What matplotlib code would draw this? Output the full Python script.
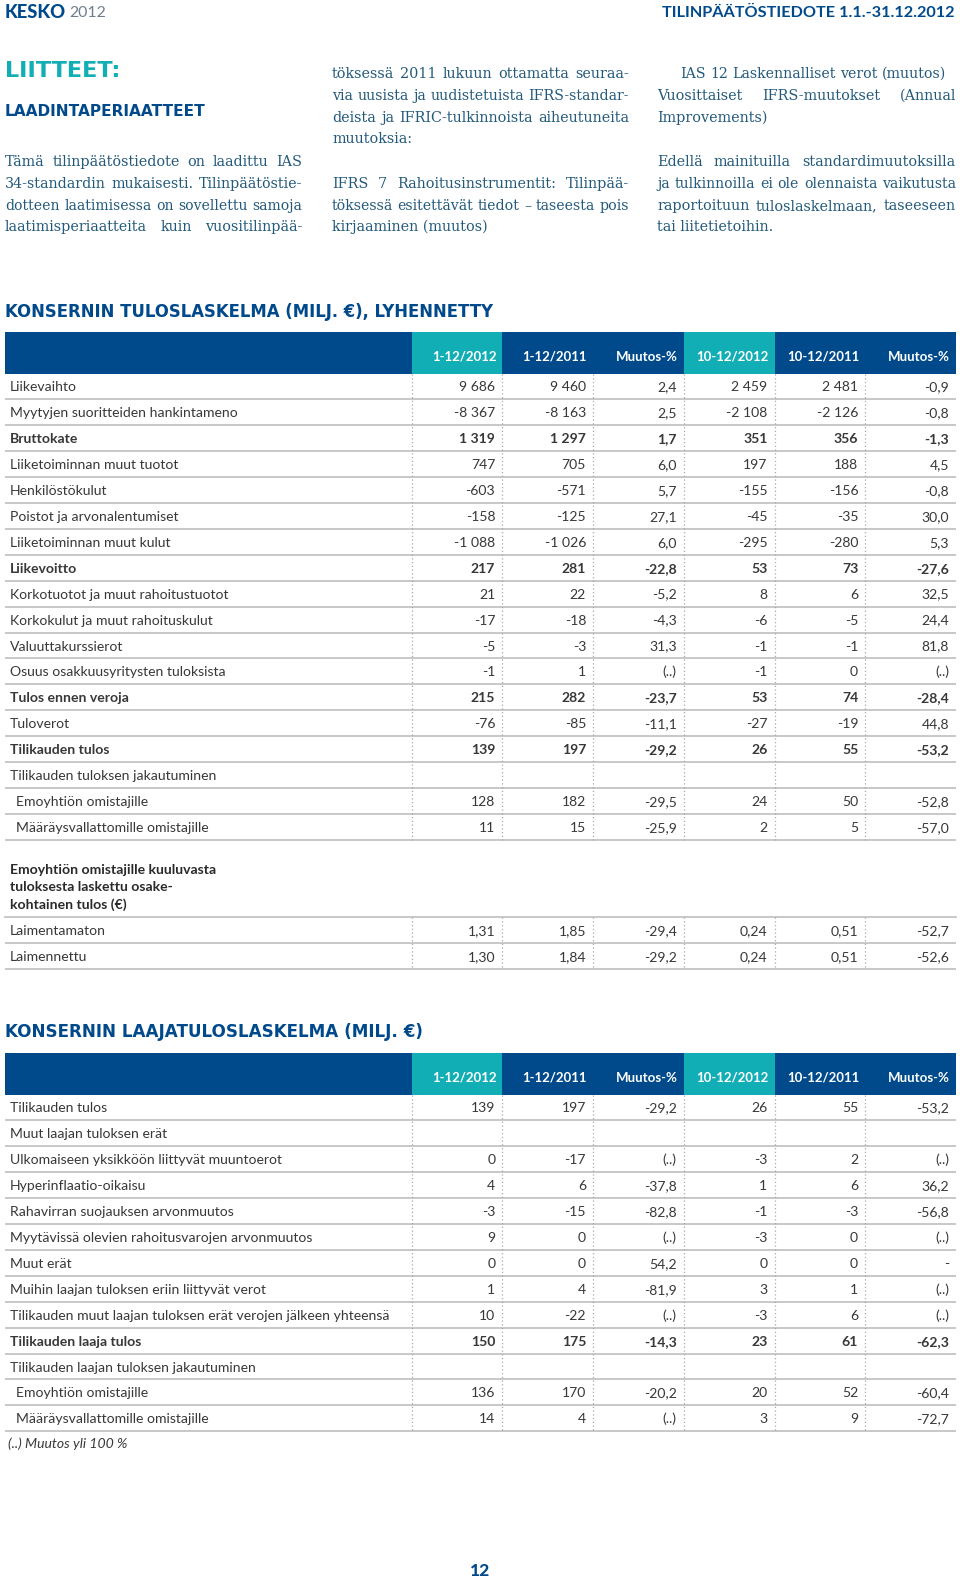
import math
import matplotlib
matplotlib.use("Agg")
import matplotlib.pyplot as plt
from matplotlib.patches import Rectangle
from matplotlib import font_manager

# ---------------- data ----------------
col_headers = ["1-12/2012", "1-12/2011", "Muutos-%", "10-12/2012", "10-12/2011", "Muutos-%"]

# Table 1: Konsernin tuloslaskelma
t1_labels = ["Liikevaihto", "Myytyjen suoritteiden hankintameno", "Bruttokate",
             "Liiketoiminnan muut tuotot", "Henkilöstökulut", "Poistot ja arvonalentumiset",
             "Liiketoiminnan muut kulut", "Liikevoitto", "Korkotuotot ja muut rahoitustuotot",
             "Korkokulut ja muut rahoituskulut", "Valuuttakurssierot",
             "Osuus osakkuusyritysten tuloksista", "Tulos ennen veroja", "Tuloverot",
             "Tilikauden tulos", "Tilikauden tuloksen jakautuminen",
             "Emoyhtiön omistajille", "Määräysvallattomille omistajille"]
t1_y2012 = [9686, -8367, 1319, 747, -603, -158, -1088, 217, 21, -17, -5, -1, 215, -76, 139, '', 128, 11]
t1_y2011 = [9460, -8163, 1297, 705, -571, -125, -1026, 281, 22, -18, -3, 1, 282, -85, 197, '', 182, 15]
t1_ychg = [2.4, 2.5, 1.7, 6.0, 5.7, 27.1, 6.0, -22.8, -5.2, -4.3, 31.3, None, -23.7, -11.1, -29.2, '', -29.5, -25.9]
t1_q2012 = [2459, -2108, 351, 197, -155, -45, -295, 53, 8, -6, -1, -1, 53, -27, 26, '', 24, 2]
t1_q2011 = [2481, -2126, 356, 188, -156, -35, -280, 73, 6, -5, -1, 0, 74, -19, 55, '', 50, 5]
t1_qchg = [-0.9, -0.8, -1.3, 4.5, -0.8, 30.0, 5.3, -27.6, 32.5, 24.4, 81.8, None, -28.4, 44.8, -53.2, '', -52.8, -57.0]

# Earnings per share
eps_labels = ["Laimentamaton", "Laimennettu"]
eps_y2012 = [1.31, 1.30]
eps_y2011 = [1.85, 1.84]
eps_ychg = [-29.4, -29.2]
eps_q2012 = [0.24, 0.24]
eps_q2011 = [0.51, 0.51]
eps_qchg = [-52.7, -52.6]

# Table 2: Konsernin laajatuloslaskelma
t2_labels = ["Tilikauden tulos", "Muut laajan tuloksen erät",
             "Ulkomaiseen yksikköön liittyvät muuntoerot", "Hyperinflaatio-oikaisu",
             "Rahavirran suojauksen arvonmuutos", "Myytävissä olevien rahoitusvarojen arvonmuutos",
             "Muut erät", "Muihin laajan tuloksen eriin liittyvät verot",
             "Tilikauden muut laajan tuloksen erät verojen jälkeen yhteensä",
             "Tilikauden laaja tulos", "Tilikauden laajan tuloksen jakautuminen",
             "Emoyhtiön omistajille", "Määräysvallattomille omistajille"]
NA = float("nan")
t2_y2012 = [139, '', 0, 4, -3, 9, 0, 1, 10, 150, '', 136, 14]
t2_y2011 = [197, '', -17, 6, -15, 0, 0, 4, -22, 175, '', 170, 4]
t2_ychg = [-29.2, '', None, -37.8, -82.8, None, 54.2, -81.9, None, -14.3, '', -20.2, None]
t2_q2012 = [26, '', -3, 1, -1, -3, 0, 3, -3, 23, '', 20, 3]
t2_q2011 = [55, '', 2, 6, -3, 0, 0, 1, 6, 61, '', 52, 9]
t2_qchg = [-53.2, '', None, 36.2, -56.8, None, NA, None, None, -62.3, '', -60.4, -72.7]

# ---------------- style ----------------
DARK = "#004a8c"
TEAL = "#12aeb6"
SERIF_C = "#235a7c"
TXT = "#383838"
GRID = "#c4c4c4"
SANS = ["Lato", "DejaVu Sans"]
HEAD = ["DejaVu Sans"]

_names = {f.name for f in font_manager.fontManager.ttflist}
SERIF_FAMILY = ["DejaVu Serif Condensed"] if "DejaVu Serif Condensed" in _names else ["DejaVu Serif"]

W, H = 960, 1581
fig = plt.figure(figsize=(W / 100, H / 100), dpi=100)
ax = fig.add_axes([0, 0, 1, 1])
ax.set_xlim(0, W)
ax.set_ylim(H, 0)
ax.axis("off")
renderer = fig.canvas.get_renderer()


def text_width(s, size, **kw):
    t = ax.text(0, 0, s, fontsize=size, **kw)
    w = t.get_window_extent(renderer=renderer).width
    t.remove()
    return w


def fit_size(s, width, **kw):
    return 10 * width / text_width(s, 10, **kw)


def fit_text(x, y, s, width, ha="left", va="center", **kw):
    size = fit_size(s, width, **kw)
    ax.text(x, y, s, fontsize=size, ha=ha, va=va, **kw)
    return size


def justify(x0, x1, y, line, size, **kw):
    words = line.split(" ")
    widths = [text_width(w, size, **kw) for w in words]
    gap = (x1 - x0 - sum(widths)) / max(len(words) - 1, 1)
    x = x0
    for w, wd in zip(words, widths):
        ax.text(x, y, w, fontsize=size, ha="left", va="baseline", **kw)
        x += wd + gap


def fmt(v, dec):
    if isinstance(v, str):
        return v
    if v is None:
        return "(..)"
    if isinstance(v, float) and math.isnan(v):
        return "-"
    s = f"{abs(v):,.{dec}f}".replace(",", " ").replace(".", ",")
    return ("-" if v < 0 else "") + s


# ---------------- page header ----------------
fit_text(5, 13, "KESKO", 61, color=DARK, family=SANS, fontweight="black")
fit_text(69, 13, "2012", 37, color="#6f7d8c", family=SANS, fontweight="normal")
fit_text(954, 13, "TILINPÄÄTÖSTIEDOTE 1.1.-31.12.2012", 292, ha="right",
         color=DARK, family=SANS, fontweight="bold")

fit_text(5, 71, "LIITTEET:", 116, color=TEAL, family=HEAD, fontweight="bold")
fit_text(5, 112, "LAADINTAPERIAATTEET", 202, color=DARK, family=HEAD, fontweight="bold")

# ---------------- serif paragraphs ----------------
SERIF = dict(family=SERIF_FAMILY, color=SERIF_C)
para = [
    # (x0, x1, y_center, text, justified)
    (5, 302, 162, "Tämä tilinpäätöstiedote on laadittu IAS", True),
    (5, 302, 184, "34-standardin mukaisesti. Tilinpäätöstie-", True),
    (5, 302, 206, "dotteen laatimisessa on sovellettu samoja", True),
    (5, 302, 227.5, "laatimisperiaatteita kuin vuositilinpää-", True),
    (332, 629, 74, "töksessä 2011 lukuun ottamatta seuraa-", True),
    (332, 629, 96, "via uusista ja uudistetuista IFRS-standar-", True),
    (332, 629, 118, "deista ja IFRIC-tulkinnoista aiheutuneita", True),
    (332, 629, 139.5, "muutoksia:", False),
    (332, 629, 184, "IFRS 7 Rahoitusinstrumentit: Tilinpää-", True),
    (332, 629, 206, "töksessä esitettävät tiedot – taseesta pois", True),
    (332, 629, 227.5, "kirjaaminen (muutos)", False),
    (680, 946, 74, "IAS 12 Laskennalliset verot (muutos)", True),
    (657, 956, 96, "Vuosittaiset IFRS-muutokset (Annual", True),
    (657, 956, 118, "Improvements)", False),
    (657, 955, 162, "Edellä mainituilla standardimuutoksilla", True),
    (657, 956, 184, "ja tulkinnoilla ei ole olennaista vaikutusta", True),
    (657, 956, 206, "raportoituun tuloslaskelmaan, taseeseen", True),
    (657, 956, 227.5, "tai liitetietoihin.", False),
]
fits = sorted(fit_size(t, x1 - x0, **SERIF) for x0, x1, y, t, j in para if j)
serif_size = fits[len(fits) // 2]
for x0, x1, y, t, j in para:
    size = min(serif_size, fit_size(t, x1 - x0, **SERIF)) if j else serif_size
    yb = y + 0.27 * size * 100 / 72
    if j:
        justify(x0, x1, yb, t, size, **SERIF)
    else:
        ax.text(x0, yb, t, fontsize=size, ha="left", va="baseline", **SERIF)

# ---------------- tables ----------------
col_left = 411.5
col_w = 90.75
col_edges = [col_left + i * col_w for i in range(7)]
TABLE_X0, TABLE_X1 = 5, 956
ROW_H = 25.95
LABEL_X, INDENT_X = 10, 16

tsize = fit_size("Myytyjen suoritteiden hankintameno", 228, family=SANS)
hsize = fit_size("1-12/2012", 65, family=SANS, fontweight="bold")
t_off = 0.36 * tsize * 100 / 72   # from visual centre to baseline
h_off = 0.36 * hsize * 100 / 72


def header_band(top):
    ax.add_patch(Rectangle((TABLE_X0, top), TABLE_X1 - TABLE_X0, 42, color=DARK, lw=0))
    for i in (0, 3):
        ax.add_patch(Rectangle((col_edges[i], top), col_w, 42, color=TEAL, lw=0))
    for i, h in enumerate(col_headers):
        ax.text(col_edges[i + 1] - 6, top + 24 + h_off, h, fontsize=hsize, ha="right",
                va="baseline", color="white", family=SANS, fontweight="bold")


def rows(y0, labels, columns, decs, bold=(), indent=()):
    ys = [y0 + i * ROW_H for i in range(len(labels))]
    for r, (y, lab) in enumerate(zip(ys, labels)):
        fw = "bold" if lab in bold else "normal"
        x = INDENT_X if lab in indent else LABEL_X
        ax.text(x, y + t_off, lab, fontsize=tsize, ha="left", va="baseline", color=TXT,
                family=SANS, fontweight=fw)
        for c, (vals, d) in enumerate(zip(columns, decs)):
            ax.text(col_edges[c + 1] - 7, y + t_off, fmt(vals[r], d), fontsize=tsize,
                    ha="right", va="baseline", color=TXT, family=SANS, fontweight=fw)
        ax.plot([TABLE_X0, TABLE_X1], [y + ROW_H / 2] * 2, color=GRID, lw=1.3,
                solid_capstyle="butt")
    return ys


def vdots(ytop, ybot):
    for x in col_edges[:6]:
        ax.plot([x, x], [ytop, ybot], color="#a8a8a8", lw=0.9, ls=(0, (1, 2)))


# Section 1
fit_text(5, 312, "KONSERNIN TULOSLASKELMA (MILJ. €), LYHENNETTY", 492,
         color=DARK, family=HEAD, fontweight="bold")
band1 = 332
header_band(band1)
bold1 = {"Bruttokate", "Liikevoitto", "Tulos ennen veroja", "Tilikauden tulos"}
indent1 = {"Emoyhtiön omistajille", "Määräysvallattomille omistajille"}
ys1 = rows(band1 + 54, t1_labels,
           [t1_y2012, t1_y2011, t1_ychg, t1_q2012, t1_q2011, t1_qchg],
           [0, 0, 1, 0, 0, 1], bold1, indent1)
vdots(band1 + 42, ys1[-1] + ROW_H / 2)

# EPS block
eps_title = ["Emoyhtiön omistajille kuuluvasta", "tuloksesta laskettu osake-",
             "kohtainen tulos (€)"]
for i, line in enumerate(eps_title):
    ax.text(LABEL_X, 869 + i * 17.3 + t_off, line, fontsize=tsize, ha="left", va="baseline",
            color="#2a2a2a", family=SANS, fontweight="bold")
eps_y0 = 930
ax.plot([TABLE_X0, TABLE_X1], [eps_y0 - ROW_H / 2] * 2, color=GRID, lw=1.3)
ys_eps = rows(eps_y0, eps_labels,
              [eps_y2012, eps_y2011, eps_ychg, eps_q2012, eps_q2011, eps_qchg],
              [2, 2, 1, 2, 2, 1])
vdots(eps_y0 - ROW_H / 2, ys_eps[-1] + ROW_H / 2)

# Section 2
fit_text(5, 1032, "KONSERNIN LAAJATULOSLASKELMA (MILJ. €)", 419,
         color=DARK, family=HEAD, fontweight="bold")
band2 = 1053
header_band(band2)
ys2 = rows(band2 + 54, t2_labels,
           [t2_y2012, t2_y2011, t2_ychg, t2_q2012, t2_q2011, t2_qchg],
           [0, 0, 1, 0, 0, 1], {"Tilikauden laaja tulos"}, indent1)
vdots(band2 + 42, ys2[-1] + ROW_H / 2)

ax.text(8, ys2[-1] + ROW_H / 2 + 12 + t_off, "(..) Muutos yli 100 %", fontsize=tsize,
        ha="left", va="baseline", color=TXT, family=SANS, style="italic")

# page number
ax.text(480, 1571, "12", fontsize=12.5, ha="center", va="center", color=DARK,
        family=SANS, fontweight="black")

fig.savefig("out.png", dpi=100)
